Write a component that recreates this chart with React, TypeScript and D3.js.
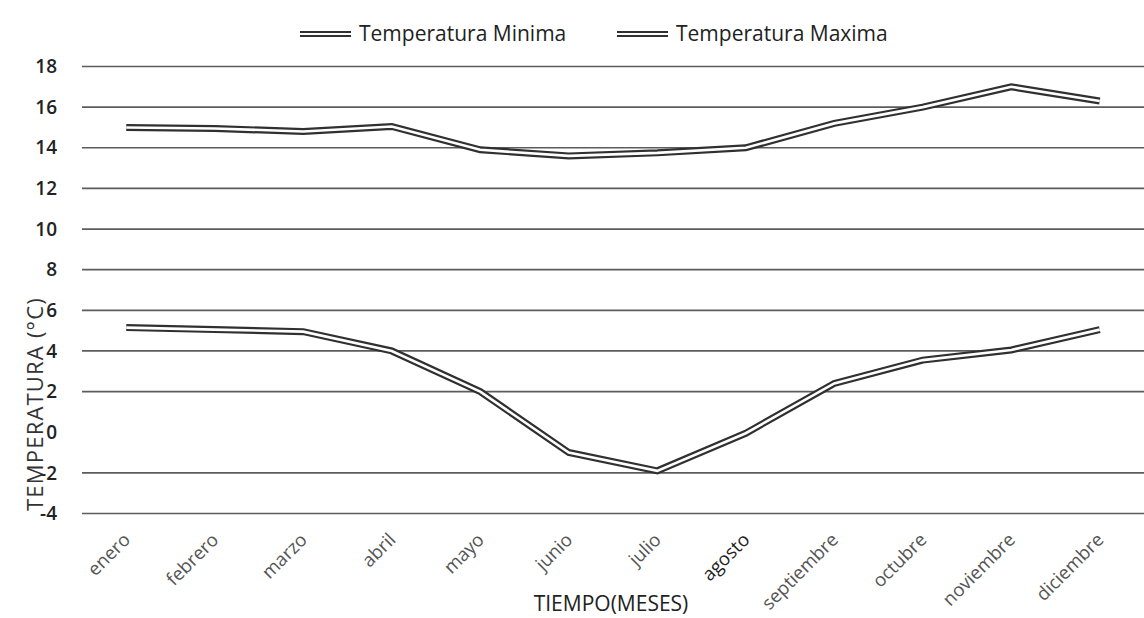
import React from "react";
import * as d3 from "d3";

const months = ["enero","febrero","marzo","abril","mayo","junio","julio","agosto","septiembre","octubre","noviembre","diciembre"];
const tempMin = [5.15, 5.05, 4.95, 4.0, 2.0, -1.0, -1.9, -0.05, 2.4, 3.55, 4.05, 5.05];
const tempMax = [15.0, 14.95, 14.8, 15.05, 13.9, 13.6, 13.75, 14.0, 15.2, 16.0, 17.0, 16.3];
const yTicks = [18, 16, 14, 12, 10, 8, 6, 4, 2, 0, -2, -4];
const gridTicks = [18, 16, 14, 12, 10, 8, 6, 4, 2, -2, -4];
const seriesNames = ["Temperatura Minima", "Temperatura Maxima"];

const W = 1144, H = 618;
const FONT = "'Open Sans', 'DejaVu Sans', sans-serif";

export default function App() {
  const x = d3.scaleBand<string>().domain(months).range([82, 1144]);
  const y = d3.scaleLinear().domain([-4, 18]).range([513.5, 66.5]);
  const cx = (m: string) => (x(m) as number) + x.bandwidth() / 2;

  const line = d3.line<number>()
    .x((_, i) => cx(months[i]))
    .y((d) => y(d))
    .curve(d3.curveLinear);

  const series = [tempMin, tempMax];
  const legendX = [300, 617];

  return (
    <svg width={W} height={H} style={{ position: "absolute", left: 0, top: 0, background: "#fff" }}>
      {gridTicks.map((t) => (
        <line key={t} x1={82} x2={W} y1={y(t)} y2={y(t)} stroke="#5c5c5c" strokeWidth={1.7} />
      ))}
      {yTicks.map((t) => (
        <text key={t} x={57} y={y(t)} dy="0.35em" textAnchor="end" fontFamily={FONT} fontSize={19} fill="#222" fontWeight={600}>
          {t}
        </text>
      ))}
      <text transform={`translate(43,404) rotate(-90)`} textAnchor="middle" fontFamily={FONT} fontSize={22} letterSpacing={1.2} fill="#333">
        TEMPERATURA (°C)
      </text>
      {series.map((s, k) => (
        <g key={k}>
          <path d={line(s) || ""} fill="none" stroke="#303030" strokeWidth={7} strokeLinejoin="miter" />
          <path d={line(s) || ""} fill="none" stroke="#fff" strokeWidth={2.6} strokeLinejoin="miter" />
        </g>
      ))}
      {months.map((m) => (
        <text key={m} transform={`translate(${cx(m) + 5},${541}) rotate(-45)`} textAnchor="end" fontFamily={FONT} fontSize={18.5} fill={m === "agosto" ? "#222" : "#555"}>
          {m}
        </text>
      ))}
      <text x={611} y={611} textAnchor="middle" fontFamily={FONT} fontSize={21} fill="#222">
        TIEMPO(MESES)
      </text>
      {seriesNames.map((n, i) => (
        <g key={n}>
          <line x1={legendX[i]} x2={legendX[i] + 51} y1={34} y2={34} stroke="#303030" strokeWidth={6} />
          <line x1={legendX[i]} x2={legendX[i] + 51} y1={34} y2={34} stroke="#fff" strokeWidth={2} />
          <text x={legendX[i] + 59} y={41} fontFamily={FONT} fontSize={21} fill="#222">
            {n}
          </text>
        </g>
      ))}
    </svg>
  );
}
